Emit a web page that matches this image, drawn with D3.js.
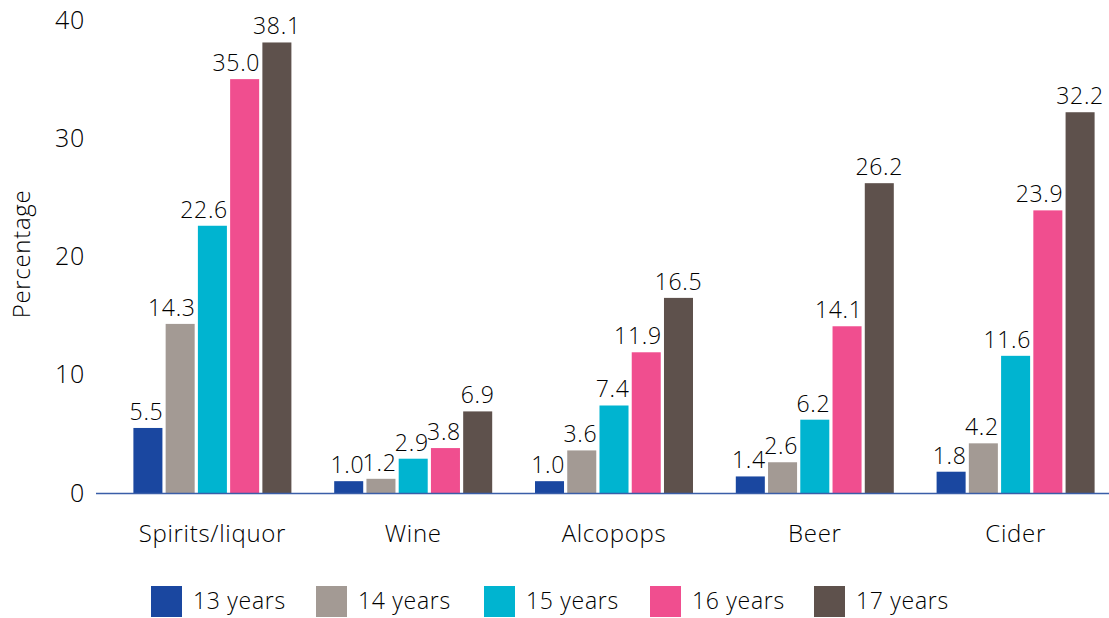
<!DOCTYPE html>
<html>
<head>
<meta charset="utf-8">
<script src="https://cdn.jsdelivr.net/npm/d3@7"></script>
<style>
  html, body { margin: 0; padding: 0; background: #fff; }
  text { font-family: "Open Sans", Lato, sans-serif; fill: #000; font-weight: 300; letter-spacing: 0.7px; }
</style>
</head>
<body>
<svg id="chart" width="1109" height="618"></svg>
<script>
const categories = ["Spirits/liquor", "Wine", "Alcopops", "Beer", "Cider"];
const seriesNames = ["13 years", "14 years", "15 years", "16 years", "17 years"];
const age13 = [5.5, 1.0, 1.0, 1.4, 1.8];
const age14 = [14.3, 1.2, 3.6, 2.6, 4.2];
const age15 = [22.6, 2.9, 7.4, 6.2, 11.6];
const age16 = [35.0, 3.8, 11.9, 14.1, 23.9];
const age17 = [38.1, 6.9, 16.5, 26.2, 32.2];
const seriesValues = [age13, age14, age15, age16, age17];
const colors = ["#1a47a0", "#a39a94", "#00b4d0", "#f04e8f", "#5e514c"];
const yTicks = [0, 10, 20, 30, 40];
const FONT = "'Open Sans', Lato, sans-serif";

const svg = d3.select("#chart");
const x0 = d3.scaleBand().domain(categories).range([112, 1116]).paddingInner(0).paddingOuter(0);
const groupW = 158;
const x1 = d3.scaleBand().domain(seriesNames).range([-groupW / 2, groupW / 2]).paddingInner(0.1);
const y = d3.scaleLinear().domain([0, 40]).range([493, 20]);

// y tick labels
const yAxis = d3.axisLeft(y).tickValues(yTicks).tickSize(0).tickPadding(0);
const gy = svg.append("g").attr("transform", "translate(85,0)").call(yAxis);
gy.select(".domain").remove();
gy.selectAll("text").style("font-size", "25px").attr("fill", "#000").style("font-family", FONT);

// axis title
svg.append("text")
  .attr("transform", "translate(30,254) rotate(-90)")
  .attr("text-anchor", "middle")
  .style("font-size", "24px")
  .text("Percentage");

// bars
const groups = svg.append("g").selectAll("g")
  .data(categories)
  .join("g")
  .attr("transform", d => `translate(${x0(d) + x0.bandwidth() / 2},0)`);

groups.each(function(cat, ci) {
  const g = d3.select(this);
  seriesNames.forEach((s, si) => {
    const v = seriesValues[si][ci];
    const bx = x1(s), bw = x1.bandwidth();
    g.append("rect")
      .attr("x", bx)
      .attr("width", bw)
      .attr("y", y(v))
      .attr("height", y(0) - y(v))
      .attr("fill", colors[si]);
    const t = g.append("text")
      .attr("x", bx + bw / 2)
      .attr("y", y(v) - 8)
      .attr("text-anchor", "middle")
      .style("font-size", "23px")
      .text(v.toFixed(1));
    // keep label clear of a taller neighbour on the right
    const next = si + 1 < seriesValues.length ? seriesValues[si + 1][ci] : null;
    const tw = t.node().getComputedTextLength();
    if (next !== null && next > v && tw / 2 > bw / 2) {
      t.attr("x", bx + bw + 1 - tw / 2);
    }
  });
});

// x axis
const xAxis = d3.axisBottom(x0).tickSize(0).tickPadding(0);
const gx = svg.append("g").attr("transform", `translate(0,${y(0)})`).call(xAxis);
gx.select(".domain").remove();
gx.selectAll("text").attr("dy", "0").attr("y", 49).style("font-size", "24px").attr("fill", "#000").style("font-family", FONT);
svg.append("line")
  .attr("x1", 96).attr("x2", 1109)
  .attr("y1", y(0) + 0.5).attr("y2", y(0) + 0.5)
  .attr("stroke", "#3a5ea8").attr("stroke-width", 1.5);

// legend
const legendX = [151, 316, 484, 650, 814];
const legend = svg.append("g").selectAll("g")
  .data(seriesNames)
  .join("g")
  .attr("transform", (d, i) => `translate(${legendX[i]},586)`);
legend.append("rect").attr("width", 31).attr("height", 31).attr("fill", (d, i) => colors[i]);
legend.append("text").attr("x", 42).attr("y", 23).style("font-size", "23px").text(d => d);
</script>
</body>
</html>
